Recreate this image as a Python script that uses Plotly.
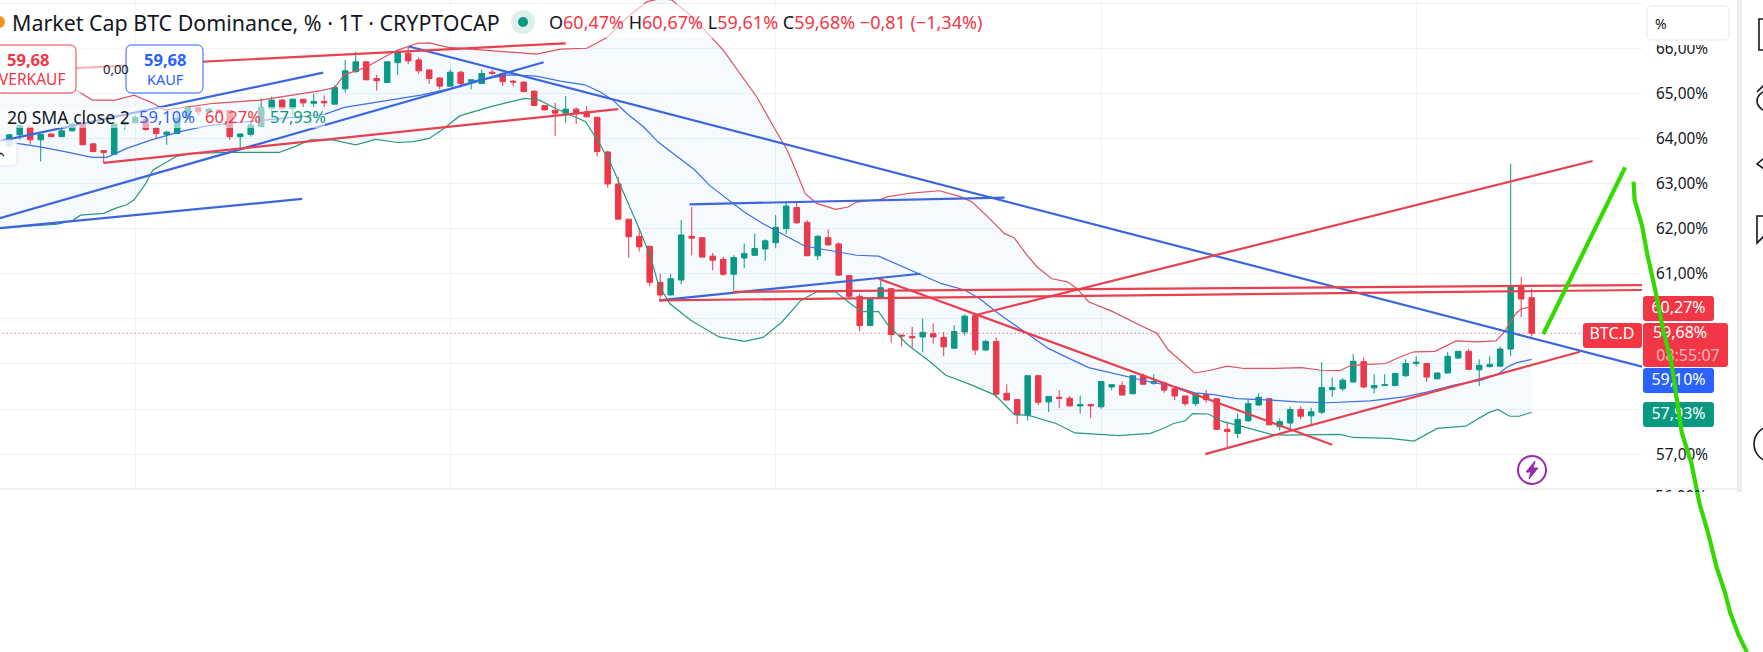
import plotly.graph_objects as go

W, H = 1763, 652
FONT = "Noto Sans"
RED, GREEN, BLUE = "#F23645", "#089981", "#2962FF"
HAND = "#33D900"

# ---- candles (percent) ----
opens = [63.84,64.08,64.25,63.97,64.10,64.04,64.17,64.32,63.88,63.73,63.65,64.31,64.35,64.42,64.23,64.09,64.11,64.45,64.68,64.59,
64.63,64.62,64.04,64.09,64.26,64.67,64.85,64.67,64.87,64.78,64.82,64.76,65.10,65.48,65.70,65.33,65.24,65.68,65.89,65.74,
65.52,65.34,65.16,65.47,65.27,65.22,65.47,65.44,65.27,65.25,65.05,64.73,64.62,64.56,64.65,64.59,64.47,
63.70,62.99,62.21,61.83,61.61,60.81,60.53,60.86,61.83,61.80,61.39,61.32,60.99,61.35,61.41,61.55,61.69,62.00,62.47,
62.14,61.40,61.80,61.66,60.96,60.50,59.85,60.45,60.67,59.64,59.61,59.60,59.67,59.59,59.35,59.71,60.07,59.31,59.50,
58.35,58.21,57.87,58.74,58.16,58.26,58.24,58.07,58.10,58.05,58.49,58.52,58.34,58.74,58.57,58.58,58.45,
58.29,58.12,58.32,58.23,57.55,57.46,57.74,58.09,58.23,57.61,57.69,57.99,57.85,57.93,58.43,58.45,58.60,59.05,58.47,58.52,
58.52,58.74,59.01,59.01,58.67,58.80,59.13,59.28,58.87,58.94,58.95,59.33,60.72,60.47]
highs = [64.10,64.30,64.26,64.11,64.10,64.22,64.34,64.35,63.89,63.73,64.35,64.41,64.52,64.48,64.25,64.17,64.56,64.70,64.70,64.68,
64.66,64.63,64.11,64.34,64.89,64.93,64.88,64.89,64.88,64.99,64.96,65.19,65.74,65.92,65.70,65.41,65.70,65.96,66.04,65.80,
65.53,65.36,65.53,65.50,65.30,65.53,65.53,65.47,65.30,65.26,65.05,64.73,64.79,64.94,64.69,64.72,64.47,
63.73,63.15,62.21,62.00,61.61,61.00,61.00,62.19,62.48,61.80,61.46,61.38,61.41,61.67,61.89,61.76,62.30,62.59,62.59,
62.19,61.86,61.98,61.70,60.96,60.56,60.45,60.84,60.67,59.65,59.82,60.01,59.90,59.71,59.86,60.10,60.07,59.54,59.59,
58.55,58.21,58.76,58.74,58.28,58.42,58.29,58.30,58.11,58.61,58.54,58.61,58.74,58.79,58.77,58.61,58.48,
58.29,58.36,58.42,58.23,57.72,57.90,58.21,58.35,58.23,57.79,58.05,58.06,58.03,59.04,58.70,58.69,59.22,59.14,58.77,58.77,
58.79,59.10,59.17,59.01,58.80,59.27,59.28,59.34,59.10,59.17,59.38,63.44,60.93,60.67]
lows = [63.78,63.97,63.86,63.49,64.03,64.03,64.15,63.85,63.69,63.45,63.63,64.20,64.33,64.17,63.98,63.86,64.10,64.41,64.52,64.57,
64.55,63.97,63.78,64.04,64.25,64.56,64.63,64.52,64.70,64.70,64.70,64.75,65.02,65.46,65.30,65.06,65.24,65.41,65.65,65.43,
65.21,65.09,65.15,65.13,65.09,65.21,65.40,65.16,65.15,65.02,64.72,64.63,64.05,64.35,64.32,64.47,63.60,
62.91,62.21,61.36,61.49,60.72,60.45,60.52,60.77,61.41,61.36,61.08,60.95,60.64,61.12,61.39,61.29,61.57,61.88,62.11,
61.39,61.30,61.63,60.95,60.44,59.73,59.85,60.44,59.47,59.39,59.37,59.27,59.45,59.17,59.34,59.63,59.20,59.29,58.24,
58.20,57.67,57.74,58.09,57.93,58.02,58.06,57.90,57.80,58.01,58.42,58.31,58.33,58.54,58.54,58.36,58.20,
58.07,58.06,58.14,57.53,57.15,57.35,57.72,58.08,57.64,57.52,57.57,57.77,57.64,57.89,58.27,58.39,58.59,58.46,58.35,58.52,
58.51,58.71,58.95,58.60,58.67,58.79,59.12,58.86,58.51,58.92,58.95,59.17,60.04,59.61]
closes = [64.08,64.28,63.97,64.09,64.04,64.17,64.32,63.86,63.71,63.69,64.32,64.35,64.47,64.20,64.11,64.14,64.45,64.69,64.59,64.65,
64.59,64.04,64.10,64.30,64.69,64.85,64.67,64.87,64.79,64.82,64.79,65.13,65.50,65.70,65.30,65.28,65.70,65.92,65.72,65.50,
65.33,65.16,65.47,65.22,65.30,65.44,65.44,65.26,65.25,65.04,64.73,64.63,64.56,64.65,64.56,64.48,63.71,
62.99,62.21,61.82,61.60,60.81,60.53,60.89,61.86,61.79,61.37,61.30,60.99,61.36,61.45,61.56,61.73,62.03,62.50,62.13,
61.40,61.83,61.64,60.97,60.50,59.85,60.45,60.69,59.65,59.62,59.58,59.70,59.60,59.38,59.72,60.06,59.31,59.50,58.33,
58.20,57.87,58.74,58.15,58.28,58.24,58.07,58.10,58.07,58.61,58.54,58.31,58.74,58.55,58.61,58.42,58.29,
58.12,58.33,58.21,57.55,57.50,57.77,58.12,58.26,57.65,57.72,57.99,57.84,57.94,58.48,58.48,58.64,59.06,58.49,58.52,58.54,
58.79,59.01,59.04,58.71,58.80,59.17,59.28,58.88,58.97,58.99,59.33,60.71,60.44,59.68]
candle_index = list(range(len(opens)))

# ---- Bollinger bands: (candle index, percent) ----
upper_x = [-1,3,5,6.4,7.9,10.1,11.9,13.7,14.8,19.5,23.9,29.7,31,31.9,33,34.1,35.2,37,38.9,40,41.8,45.1,48.3,50.2,52.5,55,56.9,58.8,60.7,62,63.1,65.1,68,71.2,72.8,74.1,74.9,75.8,76.9,78.7,79.9,80.7,83,83.7,85.9,88.6,90.6,91.7,93.2,94.8,95.7,96.8,97.9,99.3,100.8,101.7,102.8,105.1,107.7,109.3,110.4,111.2,112.9,114.4,116,117.6,120.5,123.1,124.9,126.7,127.8,129.5,131.1,132.5,133.8,135.8,137.8,139.8,141.6,142.4,143.5,144,145]
upper_y = [65.1,65.1,65.2,65.07,64.85,64.85,64.96,64.78,64.63,64.78,64.85,65.06,65.13,65.41,65.50,65.59,65.74,65.96,66.11,66.12,66.02,65.96,65.89,65.87,65.98,66.0,66.23,66.67,67.03,67.1,67.07,66.69,65.96,64.92,64.26,63.74,63.30,62.78,62.56,62.43,62.48,62.59,62.65,62.71,62.79,62.84,62.71,62.59,62.26,61.89,61.80,61.45,61.15,60.89,60.82,60.67,60.38,60.16,59.86,59.68,59.31,59.14,58.80,58.86,58.95,58.90,58.90,58.92,58.86,58.85,58.97,58.99,59.01,59.16,59.27,59.28,59.51,59.49,59.51,59.71,60.12,60.22,60.27]
middle_x = [-1,.8,2.8,5.3,7.9,9.3,11.2,13.7,16.3,18.8,21,24.6,30.1,31.9,35.6,39.2,42.1,44.7,47.6,50.2,52.5,54.8,56.3,57.5,58.8,60.4,61.8,63.2,65.3,66.7,68.9,70,71.8,73.6,75.8,78.3,80.7,82.8,84.8,86.8,88.8,91,92.4,94.2,96.8,99,102.8,105.8,108.7,111.2,112.9,114.7,116.9,120.2,122.7,125.6,129.6,132.9,135.1,137.6,140.2,141.8,142.7,143.6,145]
middle_y = [63.95,63.89,63.82,63.71,63.58,63.58,63.78,63.98,64.15,64.28,64.34,64.41,64.54,64.69,64.82,64.96,65.11,65.30,65.41,65.38,65.27,65.19,65.03,64.85,64.56,64.26,63.92,63.68,63.30,62.96,62.56,62.37,62.11,61.89,61.61,61.51,61.41,61.39,61.19,60.99,60.78,60.64,60.45,60.12,59.69,59.34,58.92,58.75,58.60,58.49,58.36,58.32,58.23,58.20,58.16,58.14,58.18,58.27,58.38,58.53,58.64,58.77,58.94,59.03,59.10]
lower_x = [-1,4.6,6.1,6.8,9,10.1,11.2,11.9,13,13.7,14.8,15.9,17.4,21,25.7,27.2,28.7,30.8,33,34.9,37,38.5,40,41.4,42.9,45.8,49.1,50.5,52,53.4,54.9,56,57.3,58.2,59.1,60,61.1,61.8,62.9,64.9,67.6,70,71.8,73.6,75.4,76.9,78.7,80.1,81.2,82.8,83.7,85.6,87.7,89.2,91.7,93.9,95.7,97.1,99.7,101.5,105.7,108.7,109.9,110.9,112,112.7,114.2,115.6,117.5,120.2,121.6,126.7,128,131.5,133.8,136,138.7,140.9,141.8,142.9,143.8,145]
lower_y = [62.01,62.10,62.19,62.30,62.34,62.45,62.53,62.64,63.0,63.30,63.45,63.60,63.67,63.69,63.69,63.82,63.97,63.97,63.86,63.98,63.91,63.93,64.0,64.22,64.50,64.70,64.89,64.85,64.67,64.52,64.37,63.97,63.44,62.96,62.48,62.0,61.37,60.78,60.34,59.97,59.60,59.50,59.59,59.93,60.41,60.60,60.60,60.34,60.16,60.16,59.86,59.42,59.05,58.75,58.53,58.31,57.88,57.86,57.68,57.47,57.41,57.46,57.57,57.68,57.74,57.90,57.89,57.72,57.61,57.44,57.42,57.44,57.37,57.35,57.29,57.57,57.62,57.92,57.99,57.84,57.84,57.93]

# ---- hand drawn trend lines: (index pair, percent pair) ----
blue_lines = [([-0.9,50.9],[62.23,65.69]),([-0.9,27.9],[62.01,62.66]),([-0.9,29.9],[63.94,65.46]),
              ([38.06,155.5],[66.04,58.94]),([64.8,94.8],[62.54,62.69]),([61.9,86.8],[60.41,61.0])]
red_lines = [([9,58],[63.46,64.65]),([3,53],[65.52,66.11]),([91.8,150.8],[60.07,63.50]),([82.8,126],[60.89,57.21]),
             ([113.9,149.6],[57.0,59.27]),([61.9,155.5],[60.41,60.64]),([68.9,155.5],[60.60,60.75])]
green_up_x, green_up_y = [146.1,153.9],[59.66,63.36]
green_down_x = [154.7,154.8,155.5,156.0,156.8,157.5,158.3,158.8,159.3,160.2,161.0,161.8,162.6,163.4,163.9,164.7,165.5]
green_down_y = [63.04,62.63,62.08,61.44,60.60,59.77,59.03,58.29,57.47,56.81,55.89,55.25,54.50,53.94,53.49,52.99,52.61]

# ---- axes ----
price_ticks = [57,58,59,60,61,62,63,64,65,66,67]
price_labels = ["57,00%","","","","61,00%","62,00%","63,00%","64,00%","65,00%","66,00%",""]
time_ticks = [12,42,73,104,134]
last_price = 59.68
tags = [("60,27%",60.27,1643,1714,296,321,RED),("59,10%",59.10,1643,1714,368,393,BLUE),("57,93%",57.93,1643,1714,402,427,GREEN)]

PX_PER_PCT, PX_PER_BAR = 45.1, 10.5
def px_to_i(p): return (p-9.2)/PX_PER_BAR
def py_to_v(p): return 67.07-p/PX_PER_PCT
def fx(p): return p/W
def fy(p): return 1-p/H

PLOT_R, PLOT_B = 1642, 489
fig = go.Figure()

# band fill + lines
fig.add_trace(go.Scatter(x=upper_x+lower_x[::-1], y=upper_y+lower_y[::-1], fill="toself", mode="none",
                         fillcolor="rgba(33,150,243,0.05)", hoverinfo="skip"))
fig.add_trace(go.Scatter(x=upper_x,y=upper_y,mode="lines",line=dict(color="#E2505C",width=1.2)))
fig.add_trace(go.Scatter(x=middle_x,y=middle_y,mode="lines",line=dict(color="#3D6FE8",width=1.2)))
fig.add_trace(go.Scatter(x=lower_x,y=lower_y,mode="lines",line=dict(color="#2A9A80",width=1.2)))
fig.add_trace(go.Candlestick(x=candle_index,open=opens,high=highs,low=lows,close=closes,whiskerwidth=0,
    increasing=dict(line=dict(color=GREEN,width=1),fillcolor=GREEN),
    decreasing=dict(line=dict(color=RED,width=1),fillcolor=RED)))
fig.add_trace(go.Scatter(x=[-1,px_to_i(1583)],y=[last_price,last_price],mode="lines",
                         line=dict(color=RED,width=1,dash="1px 3px")))
for lx,ly in blue_lines:
    fig.add_trace(go.Scatter(x=lx,y=ly,mode="lines",line=dict(color="#3B66E0",width=2.2)))
for lx,ly in red_lines:
    fig.add_trace(go.Scatter(x=lx,y=ly,mode="lines",line=dict(color="#E8404E",width=2.2)))

# clipped lowest price label (cut by the pane edge)
fig.add_trace(go.Scatter(x=[px_to_i(1681)],y=[py_to_v(498)],mode="text",text=["56,00%"],xaxis="x3",yaxis="y3",
    textfont=dict(family=FONT,size=15.4,color="#131722"),cliponaxis=True))

# tag texts and freehand green strokes in a full-window layer
def tagtext(t,v,px,size=16,color="white"):
    fig.add_trace(go.Scatter(x=[px_to_i(px)],y=[v],mode="text",text=[t],xaxis="x2",yaxis="y2",
        textfont=dict(family=FONT,size=size,color=color)))
for t,v,x0,x1,y0,y1,c in tags:
    tagtext(t,py_to_v((y0+y1)/2),(x0+x1)/2)
tagtext("BTC.D",py_to_v(335),1612)
tagtext("59,68%",py_to_v(334),1680)
tagtext("08:55:07",py_to_v(357),1688,color="rgba(255,255,255,0.65)")
fig.add_trace(go.Scatter(x=green_up_x,y=green_up_y,mode="lines",xaxis="x2",yaxis="y2",line=dict(color=HAND,width=4.2)))
fig.add_trace(go.Scatter(x=green_down_x,y=green_down_y,mode="lines",xaxis="x2",yaxis="y2",line=dict(color=HAND,width=4.2)))

def rr(x0,y0,x1,y1,r=4):
    X=fx; Y=fy
    return (f"M{X(x0+r)},{Y(y0)} L{X(x1-r)},{Y(y0)} Q{X(x1)},{Y(y0)} {X(x1)},{Y(y0+r)} L{X(x1)},{Y(y1-r)} "
            f"Q{X(x1)},{Y(y1)} {X(x1-r)},{Y(y1)} L{X(x0+r)},{Y(y1)} Q{X(x0)},{Y(y1)} {X(x0)},{Y(y1-r)} "
            f"L{X(x0)},{Y(y0+r)} Q{X(x0)},{Y(y0)} {X(x0+r)},{Y(y0)} Z")
shapes=[]
def box(x0,y0,x1,y1,fill,line=None,r=4,layer="above",w=1,op=1):
    shapes.append(dict(type="path",path=rr(x0,y0,x1,y1,r),xref="paper",yref="paper",fillcolor=fill,opacity=op,
        line=dict(color=line or "rgba(0,0,0,0)",width=w if line else 0),layer=layer))
def seg(path,color="#131722",w=1.4,fill=None):
    d=" ".join(f"{c}{fx(a)},{fy(b)}" for c,a,b in path)
    shapes.append(dict(type="path",path=d,xref="paper",yref="paper",line=dict(color=color,width=w),
                       fillcolor=fill or "rgba(0,0,0,0)",layer="above"))
def circle(cx,cy,rx,ry,line=None,fill="rgba(0,0,0,0)",w=1.4,layer="above"):
    shapes.append(dict(type="circle",xref="paper",yref="paper",x0=fx(cx-rx),x1=fx(cx+rx),y0=fy(cy+ry),y1=fy(cy-ry),
        line=dict(color=line or "rgba(0,0,0,0)",width=w if line else 0),fillcolor=fill,layer=layer))

# price tags
for t,v,x0,x1,y0,y1,c in tags:
    box(x0,y0,x1,y1,c,layer="below",r=3)
box(1583,323,1642,348,RED,layer="below",r=3)
box(1643,323,1728,367,RED,layer="below",r=3)

# price scale furniture
box(1644,0,1733,45,"white",r=1)
box(1647,6,1729,40,"white","#E6E8EE",r=5)
shapes.append(dict(type="rect",xref="paper",yref="paper",x0=fx(1737),x1=fx(1742),y0=fy(492),y1=1,fillcolor="#EDEDED",line=dict(width=0),layer="above"))
shapes.append(dict(type="line",xref="paper",yref="paper",x0=0,x1=fx(1737),y0=fy(PLOT_B),y1=fy(PLOT_B),line=dict(color="#E0E3EB",width=1),layer="below"))

# legend backdrops and order panel over chart
box(-10,4,985,38,"white",op=0.6,r=1)
box(76,45,126,93,"white",op=0.6,r=1)
box(-10,107,325,128,"white",op=0.55,r=1)
box(-6,45,76,93,"white",RED,r=6)
box(126,45,203,93,"white",BLUE,r=6)
box(-4,140,17,166,"white","#E0E3EB",r=4,op=0.85)
seg([("M",-2,156),("L",1,153),("L",4,156)],w=1.2)

# legend dots
circle(-1,22,6,6,fill="#F7931A")
circle(523,22,12,12,fill="#DCEFEB")
circle(523,22,5,5,fill=GREEN)

# lightning badge
circle(1532,470,14,14,line="#9C27B0",w=2)
seg([("M",1535,461),("L",1526,472),("L",1531,472),("L",1529,479),("L",1538,468),("L",1533,468),("L",1535,461)],
    color="#9C27B0",w=1,fill="#9C27B0")

# cropped side toolbar icons
seg([("M",1772,19),("L",1759,19),("L",1759,50),("L",1772,50)],w=1.6)
circle(1772,101,15,11,line="#131722",w=1.6)
seg([("M",1757,92),("L",1765,84)],w=1.6)
seg([("M",1768,155),("L",1757,164),("L",1768,172)],w=1.6)
seg([("M",1775,216),("L",1757,216),("L",1757,243),("L",1766,234),("L",1775,234)],w=1.6)
circle(1772,444,18,18,line="#131722",w=1.6)

def ann(x,y,text,size,color="#131722",anchor="left",bold=False):
    if bold: text=f"<b>{text}</b>"
    return dict(x=fx(x),y=fy(y),xref="paper",yref="paper",text=text,showarrow=False,xanchor=anchor,yanchor="middle",
                font=dict(family=FONT,size=size,color=color),align=anchor)
def span(t,c): return f'<span style="color:{c}">{t}</span>'
annotations=[
    ann(10,22,"Market Cap BTC Dominance, % · 1T · CRYPTOCAP",21.4),
    ann(547,22,"O"+span("60,47%",RED)+" H"+span("60,67%",RED)+" L"+span("59,61%",RED)+" C"+span("59,68%",RED)+" "+span("−0,81 (−1,34%)",RED),18),
    ann(28,59,"59,68",16.5,RED,"center",True),
    ann(32,79,"VERKAUF",15.5,RED,"center"),
    ann(165,59,"59,68",16.5,BLUE,"center",True),
    ann(165,79,"KAUF",14.5,BLUE,"center"),
    ann(101,69,"0,00",13),
    ann(5,117,"20 SMA close 2",17.6),
    ann(137,117,"59,10%",16.5,BLUE),
    ann(203,117,"60,27%",16.5,RED),
    ann(268,117,"57,93%",16.5,GREEN),
    ann(1653,23,"%",14),
]

hidden=dict(visible=False,fixedrange=True,showgrid=False,zeroline=False)
fig.update_layout(
    width=W,height=H,margin=dict(l=0,r=0,t=0,b=0),autosize=False,showlegend=False,
    paper_bgcolor="white",plot_bgcolor="rgba(0,0,0,0)",
    shapes=shapes,annotations=annotations,boxgap=0.25,hovermode=False,
    xaxis=dict(domain=[0,PLOT_R/W],range=[px_to_i(0),px_to_i(PLOT_R)],anchor="y",rangeslider=dict(visible=False),
               tickvals=time_ticks,showticklabels=False,ticks="",showgrid=True,gridcolor="#F1F3F7",gridwidth=1,zeroline=False,showline=False),
    yaxis=dict(domain=[1-PLOT_B/H,1],range=[py_to_v(PLOT_B),py_to_v(0)],anchor="x",side="right",
               tickvals=price_ticks,ticktext=price_labels,ticks="",ticklabelstandoff=13,
               tickfont=dict(family=FONT,size=15.4,color="#131722"),showgrid=True,gridcolor="#EEF0F4",gridwidth=1,zeroline=False,showline=False),
    xaxis2=dict(domain=[0,1],range=[px_to_i(0),px_to_i(W)],anchor="y2",**hidden),
    yaxis2=dict(domain=[0,1],range=[py_to_v(H),py_to_v(0)],anchor="x2",**hidden),
    xaxis3=dict(domain=[0,1],range=[px_to_i(0),px_to_i(W)],anchor="y3",**hidden),
    yaxis3=dict(domain=[1-492/H,1],range=[py_to_v(492),py_to_v(0)],anchor="x3",**hidden),
)
fig.write_html("out.html",config=dict(displayModeBar=False),
               post_script="document.body.style.margin='0';document.body.style.overflow='hidden';")
